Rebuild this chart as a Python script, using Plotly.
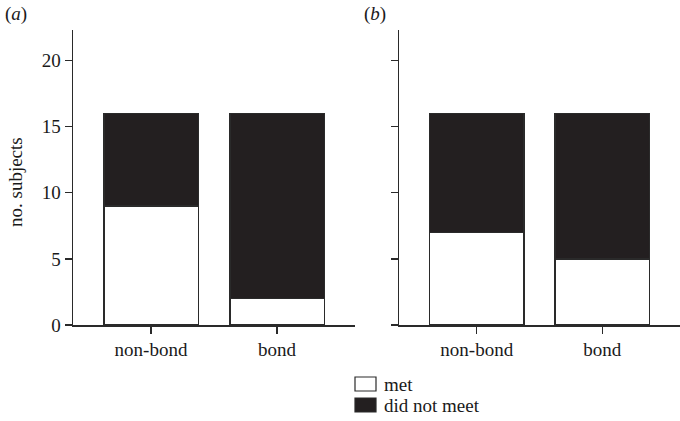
import plotly.graph_objects as go

categories = ["non-bond", "bond"]
met_a = [9, 2]
not_met_a = [7, 14]
met_b = [7, 5]
not_met_b = [9, 11]
y_ticks = [0, 5, 10, 15, 20]
series_names = ["met", "did not meet"]
panel_labels = ["(<i>a</i>)", "(<i>b</i>)"]

W, H = 680, 421
FONT = "Liberation Serif, Times New Roman, serif"
DARK = "#231f20"
LINE = "#2a2a2a"
TXT = "#1a1a1a"
FS = 19

fig = go.Figure()
for met, nm, xa, ya in [(met_a, not_met_a, "x", "y"), (met_b, not_met_b, "x2", "y2")]:
    fig.add_trace(go.Bar(x=categories, y=met, name=series_names[0], xaxis=xa, yaxis=ya,
                         marker=dict(color="white", line=dict(color=LINE, width=1.5)),
                         width=0.75, showlegend=False))
    fig.add_trace(go.Bar(x=categories, y=nm, name=series_names[1], xaxis=xa, yaxis=ya,
                         marker=dict(color=DARK, line=dict(color=LINE, width=1.5)),
                         width=0.75, showlegend=False))

ydom = [1 - 325 / H, 1 - 30 / H]
common_x = dict(type="category", range=[-0.619, 1.619], showline=True, linecolor=LINE,
                linewidth=1.5, ticks="outside", ticklen=7, tickwidth=1.5, tickcolor=LINE,
                showgrid=False, zeroline=False, tickfont=dict(family=FONT, size=FS, color=TXT),
                automargin=False, fixedrange=True)
common_y = dict(range=[0, 22.3], tickvals=y_ticks, showline=True, linecolor=LINE, linewidth=1.5,
                ticks="outside", ticklen=7, tickwidth=1.5, tickcolor=LINE, showgrid=False,
                zeroline=False, tickfont=dict(family=FONT, size=FS, color=TXT), domain=ydom,
                automargin=False, fixedrange=True)

fig.update_layout(
    template="none",
    barmode="stack", width=W, height=H, margin=dict(l=0, r=0, t=0, b=0, pad=0),
    paper_bgcolor="white", plot_bgcolor="white",
    font=dict(family=FONT, size=FS, color=TXT),
    xaxis=dict(domain=[73 / W, 355 / W], anchor="y", **common_x),
    yaxis=dict(anchor="x", **common_y),
    xaxis2=dict(domain=[399 / W, 1.0], anchor="y2", **common_x),
    yaxis2=dict(anchor="x2", showticklabels=False, **common_y),
)

# axis title
fig.add_annotation(text="no. subjects", xref="paper", yref="paper", x=15 / W, y=1 - 182 / H,
                   textangle=-90, showarrow=False, font=dict(family=FONT, size=FS, color=TXT),
                   xanchor="center", yanchor="middle")
# panel labels
for lbl, px in zip(panel_labels, [3, 362]):
    fig.add_annotation(text=lbl, xref="paper", yref="paper", x=px / W, y=1 - 14 / H,
                       showarrow=False, font=dict(family=FONT, size=FS, color=TXT),
                       xanchor="left", yanchor="middle")

# legend
for i, (name, col) in enumerate(zip(series_names, ["white", DARK])):
    y0 = 377 + i * 21
    fig.add_shape(type="rect", xref="paper", yref="paper", x0=355 / W, x1=376 / W,
                  y0=1 - (y0 + 14) / H, y1=1 - y0 / H, fillcolor=col,
                  line=dict(color=LINE, width=1.2))
    fig.add_annotation(text=name, xref="paper", yref="paper", x=382 / W, y=1 - (y0 + 7) / H,
                       showarrow=False, font=dict(family=FONT, size=FS, color=TXT),
                       xanchor="left", yanchor="middle")

fig.write_html("out.html", config={"displayModeBar": False, "staticPlot": True},
               post_script="document.body.style.margin='0';document.body.style.overflow='hidden';")
